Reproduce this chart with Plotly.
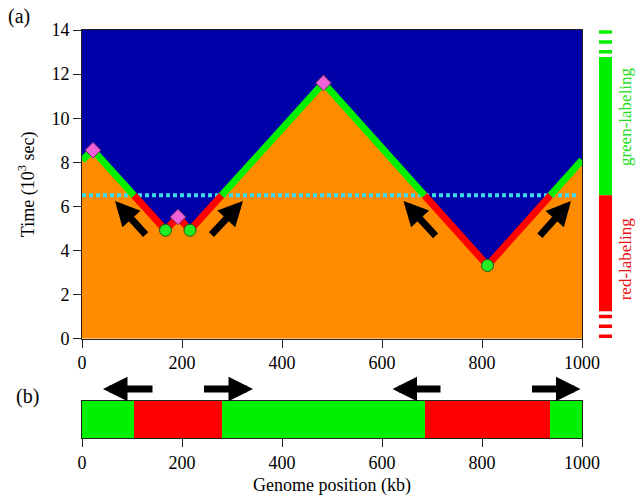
import numpy as np
import plotly.graph_objects as go

# ---------------- data ----------------
# replication-timing profile vertices (genome position kb, time 10^3 s)
profile_x = [0, 22, 167, 192, 216, 483, 811, 1000]
profile_t = [8.1, 8.55, 4.92, 5.52, 4.92, 11.6, 3.32, 8.1]

origin_x = [167, 216, 811]
origin_t = [4.92, 4.92, 3.32]

termination_x = [22, 192, 483]
termination_t = [8.55, 5.52, 11.6]

label_time = 6.5  # switch from red to green labeling

# fork-direction arrows in panel (a): (tail_x, tail_t, tip_x, tip_t)
arrows_a_tail_x = [130, 256, 710, 913]
arrows_a_tail_t = [4.65, 4.65, 4.6, 4.6]
arrows_a_tip_x = [66, 322, 643, 978]
arrows_a_tip_t = [6.25, 6.25, 6.25, 6.25]

# horizontal arrows above panel (b)
arrows_b_tail_x = [144, 241, 720, 897]
arrows_b_tip_x = [42, 342, 621, 997]

x_ticks = [0, 200, 400, 600, 800, 1000]
y_ticks = [0, 2, 4, 6, 8, 10, 12, 14]

# ---------------- styles ----------------
BLUE = "#0000A8"
ORANGE = "#FF8C00"
GREEN = "#00F000"
RED = "#FF0000"
CYAN = "#3CDCEB"
PINK = "#F060D8"
FONT = "Liberation Serif"

# split profile into green (late) and red (early) pieces
gx, gy, rx, ry = [], [], [], []
segments_b = []  # (start, end, color) for bar in panel b
for i in range(len(profile_x) - 1):
    x0, y0, x1, y1 = profile_x[i], profile_t[i], profile_x[i + 1], profile_t[i + 1]
    pts = [(x0, y0)]
    if (y0 - label_time) * (y1 - label_time) < 0:
        xc = x0 + (label_time - y0) / (y1 - y0) * (x1 - x0)
        pts.append((xc, label_time))
    pts.append((x1, y1))
    for (a, ay), (b, by) in zip(pts[:-1], pts[1:]):
        late = (ay + by) / 2 > label_time
        if late:
            gx += [a, b, None]; gy += [ay, by, None]
        else:
            rx += [a, b, None]; ry += [ay, by, None]
        col = GREEN if late else RED
        if segments_b and segments_b[-1][2] == col:
            segments_b[-1][1] = b
        else:
            segments_b.append([a, b, col])

fig = go.Figure()

# blue region (unreplicated) above the profile
fig.add_trace(go.Scatter(x=profile_x + [profile_x[-1], profile_x[0]],
                         y=profile_t + [14, 14], fill="toself", fillcolor=BLUE,
                         mode="none", hoverinfo="skip", showlegend=False))
# orange region (replicated) below the profile
fig.add_trace(go.Scatter(x=profile_x, y=profile_t, fill="tozeroy", fillcolor=ORANGE,
                         mode="none", hoverinfo="skip", showlegend=False))
# cyan dotted label-switch line
fig.add_trace(go.Scatter(x=[profile_x[0], profile_x[-1] - 8], y=[label_time, label_time],
                         mode="lines", line=dict(color=CYAN, width=4, dash="4px,3px"),
                         showlegend=False))
# profile lines
fig.add_trace(go.Scatter(x=rx, y=ry, mode="lines", line=dict(color=RED, width=7),
                         showlegend=False))
fig.add_trace(go.Scatter(x=gx, y=gy, mode="lines", line=dict(color=GREEN, width=7),
                         showlegend=False))
# markers
fig.add_trace(go.Scatter(x=termination_x, y=termination_t, mode="markers",
                         marker=dict(symbol="diamond", size=12, color=PINK,
                                     line=dict(color="#7A2A60", width=1)),
                         showlegend=False, cliponaxis=False))
fig.add_trace(go.Scatter(x=origin_x, y=origin_t, mode="markers",
                         marker=dict(symbol="circle", size=12, color="#22EE22",
                                     line=dict(color="#1A5A1A", width=1)),
                         showlegend=False))

# panel (b) labeling bar
fig.add_trace(go.Bar(y=[0.5] * len(segments_b),
                     x=[s[1] - s[0] for s in segments_b],
                     base=[s[0] for s in segments_b],
                     orientation="h", width=1,
                     marker=dict(color=[s[2] for s in segments_b], line=dict(width=0)),
                     xaxis="x2", yaxis="y2", showlegend=False, hoverinfo="skip"))

axis_common = dict(showline=True, linecolor="#222", linewidth=1, mirror=True,
                   ticks="outside", ticklen=8, tickcolor="#222", showgrid=False,
                   zeroline=False, tickfont=dict(family=FONT, size=18, color="black"))

fig.update_layout(
    width=636, height=503,
    margin=dict(l=82, r=54, t=30, b=61),
    paper_bgcolor="white", plot_bgcolor="white",
    font=dict(family=FONT, size=18, color="black"),
    xaxis=dict(domain=[0, 1], anchor="y", range=[0, 1000], tickvals=x_ticks, **axis_common),
    yaxis=dict(domain=[0.2434, 1], anchor="x", range=[0, 14], tickvals=y_ticks,
               title=dict(text="Time (10<sup>3</sup> sec)", font=dict(family=FONT, size=18),
                          standoff=12),
               **axis_common),
    xaxis2=dict(domain=[0, 1], anchor="y2", range=[0, 1000], tickvals=x_ticks,
                title=dict(text="Genome position (kb)", font=dict(family=FONT, size=18),
                           standoff=6),
                **axis_common),
    yaxis2=dict(domain=[0, 0.0915], anchor="x2", range=[0, 1], showticklabels=False,
                showline=True, linecolor="#222", linewidth=1, mirror=True,
                ticks="", showgrid=False, zeroline=False),
    bargap=0,
)

# arrows panel (a)
for tx, tt, hx, ht in zip(arrows_a_tail_x, arrows_a_tail_t, arrows_a_tip_x, arrows_a_tip_t):
    fig.add_annotation(x=hx, y=ht, ax=tx, ay=tt, xref="x", yref="y", axref="x", ayref="y",
                       text="", showarrow=True, arrowhead=2, arrowsize=0.7,
                       arrowwidth=7, arrowcolor="black")
# arrows above panel (b)  (y in paper units just above the bar)
arrow_b_y = 0.12
for tx, hx in zip(arrows_b_tail_x, arrows_b_tip_x):
    fig.add_annotation(x=hx, y=arrow_b_y, ax=tx, ay=0, xref="x2", yref="paper",
                       axref="x2", ayref="pixel", text="", showarrow=True, arrowhead=2,
                       arrowsize=0.7, arrowwidth=7, arrowcolor="black")

# labeling color bar at right
bar_x0, bar_x1 = 1.034, 1.06
fig.add_shape(type="rect", xref="paper", yref="y", x0=bar_x0, x1=bar_x1, y0=label_time,
              y1=12.77, fillcolor=GREEN, line=dict(width=0))
fig.add_shape(type="rect", xref="paper", yref="y", x0=bar_x0, x1=bar_x1, y0=1.25,
              y1=label_time, fillcolor=RED, line=dict(width=0))
for lo in [12.93, 13.38, 13.83]:
    fig.add_shape(type="rect", xref="paper", yref="y", x0=bar_x0, x1=bar_x1, y0=lo,
                  y1=lo + 0.16, fillcolor=GREEN, line=dict(width=0))
for lo in [0.93, 0.48, 0.03]:
    fig.add_shape(type="rect", xref="paper", yref="y", x0=bar_x0, x1=bar_x1, y0=lo,
                  y1=lo + 0.16, fillcolor=RED, line=dict(width=0))

fig.add_annotation(text="green-labeling", xref="paper", yref="y", x=1.086, y=10.05,
                   xanchor="center", yanchor="middle", borderpad=0,
                   textangle=-90, showarrow=False, font=dict(family=FONT, size=17, color="#22DD22"))
fig.add_annotation(text="red-labeling", xref="paper", yref="y", x=1.086, y=3.6,
                   xanchor="center", yanchor="middle", borderpad=0,
                   textangle=-90, showarrow=False, font=dict(family=FONT, size=17, color="#EE1111"))

# panel labels
fig.add_annotation(text="(a)", xref="paper", yref="paper", x=-0.126, y=1.032,
                   xanchor="center", yanchor="middle",
                   showarrow=False, font=dict(family=FONT, size=20))
fig.add_annotation(text="(b)", xref="paper", yref="paper", x=-0.11, y=0.102,
                   xanchor="center", yanchor="middle",
                   showarrow=False, font=dict(family=FONT, size=20))

fig.write_html("out.html")
